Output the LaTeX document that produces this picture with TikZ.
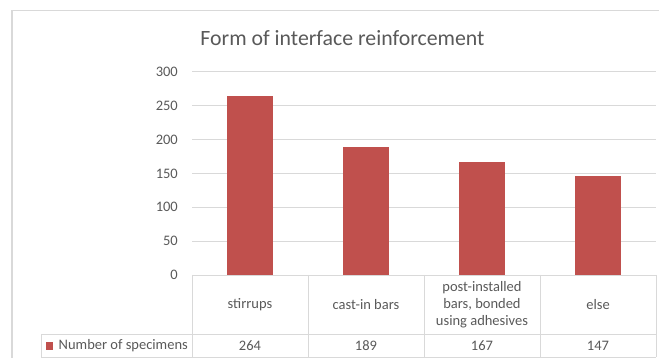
\documentclass[tikz,border=0pt]{standalone}
\usepackage{fontspec}
\setmainfont{Carlito}
\definecolor{barred}{HTML}{C0504D}
\definecolor{txt}{HTML}{595959}
\definecolor{grid}{HTML}{D9D9D9}
\definecolor{frame}{HTML}{D9D9D9}
\begin{document}
\begin{tikzpicture}[x=1pt,y=-1pt,
  gridline/.style={draw=grid,line width=1pt},
  tabline/.style={draw=grid,line width=0.9pt},
  barfill/.style={fill=barred,draw=none},
  lbl/.style={text=txt,font=\fontsize{14.5}{16.5}\selectfont,inner sep=0pt},
  ylbl/.style={lbl,anchor=east},
  catlbl/.style={lbl,align=center,anchor=center},
  titlestyle/.style={text=txt,font=\fontsize{21.8}{24}\selectfont,inner sep=0pt,anchor=base}]
\useasboundingbox (0,0) rectangle (659,358);
% outer frame
\draw[draw=frame,line width=1.2pt] (659,10.7) -- (12,10.7) -- (12,360);
% title
\node[titlestyle] (title) at (342.5,46) {Form of interface reinforcement};
% gridlines and y labels
\foreach \v/\nm in {50/a,100/b,150/c,200/d,250/e,300/f}{
  \coordinate (g\nm) at (192,{275-\v*0.676667});
  \coordinate (h\nm) at (656,{275-\v*0.676667});
  \draw[gridline] (g\nm) -- (h\nm);
  \node[ylbl] (y\nm) at (178,{275-\v*0.676667}) {\v};
}
\node[ylbl] (y0) at (178,275) {0};
% bars
\foreach \i/\val/\nm in {0/264/s,1/189/c,2/167/p,3/147/e}{
  \fill[barfill] ({250+\i*116-23},275) rectangle ({250+\i*116+23},{275-\val*0.676667});
}
% table
\coordinate (t0) at (192,275);
\coordinate (t4) at (656,275);
\draw[tabline] (t0) -- (t4);
\foreach \k in {0,1,2,3,4}{
  \draw[tabline] ({192+\k*116},275) -- ({192+\k*116},357);
}
\draw[tabline] (41,334) -- (656,334);
\draw[tabline] (41,357) -- (656,357);
\draw[tabline] (41,334) -- (41,357);
% category labels
\node[catlbl] (c1) at (250,304.5) {stirrups};
\node[catlbl] (c2) at (366,304.5) {cast-in bars};
\node[catlbl,font=\fontsize{14.5}{17}\selectfont] (c3) at (482,304.5) {post-installed\\bars, bonded\\using adhesives};
\node[catlbl] (c4) at (598,304.5) {else};
% values
\node[catlbl] (v1) at (250,346) {264};
\node[catlbl] (v2) at (366,346) {189};
\node[catlbl] (v3) at (482,346) {167};
\node[catlbl] (v4) at (598,346) {147};
% legend
\fill[barfill] (46,342) rectangle (53,350);
\node[lbl,anchor=west] (leg) at (58.5,346) {Number of specimens};
\end{tikzpicture}
\end{document}
